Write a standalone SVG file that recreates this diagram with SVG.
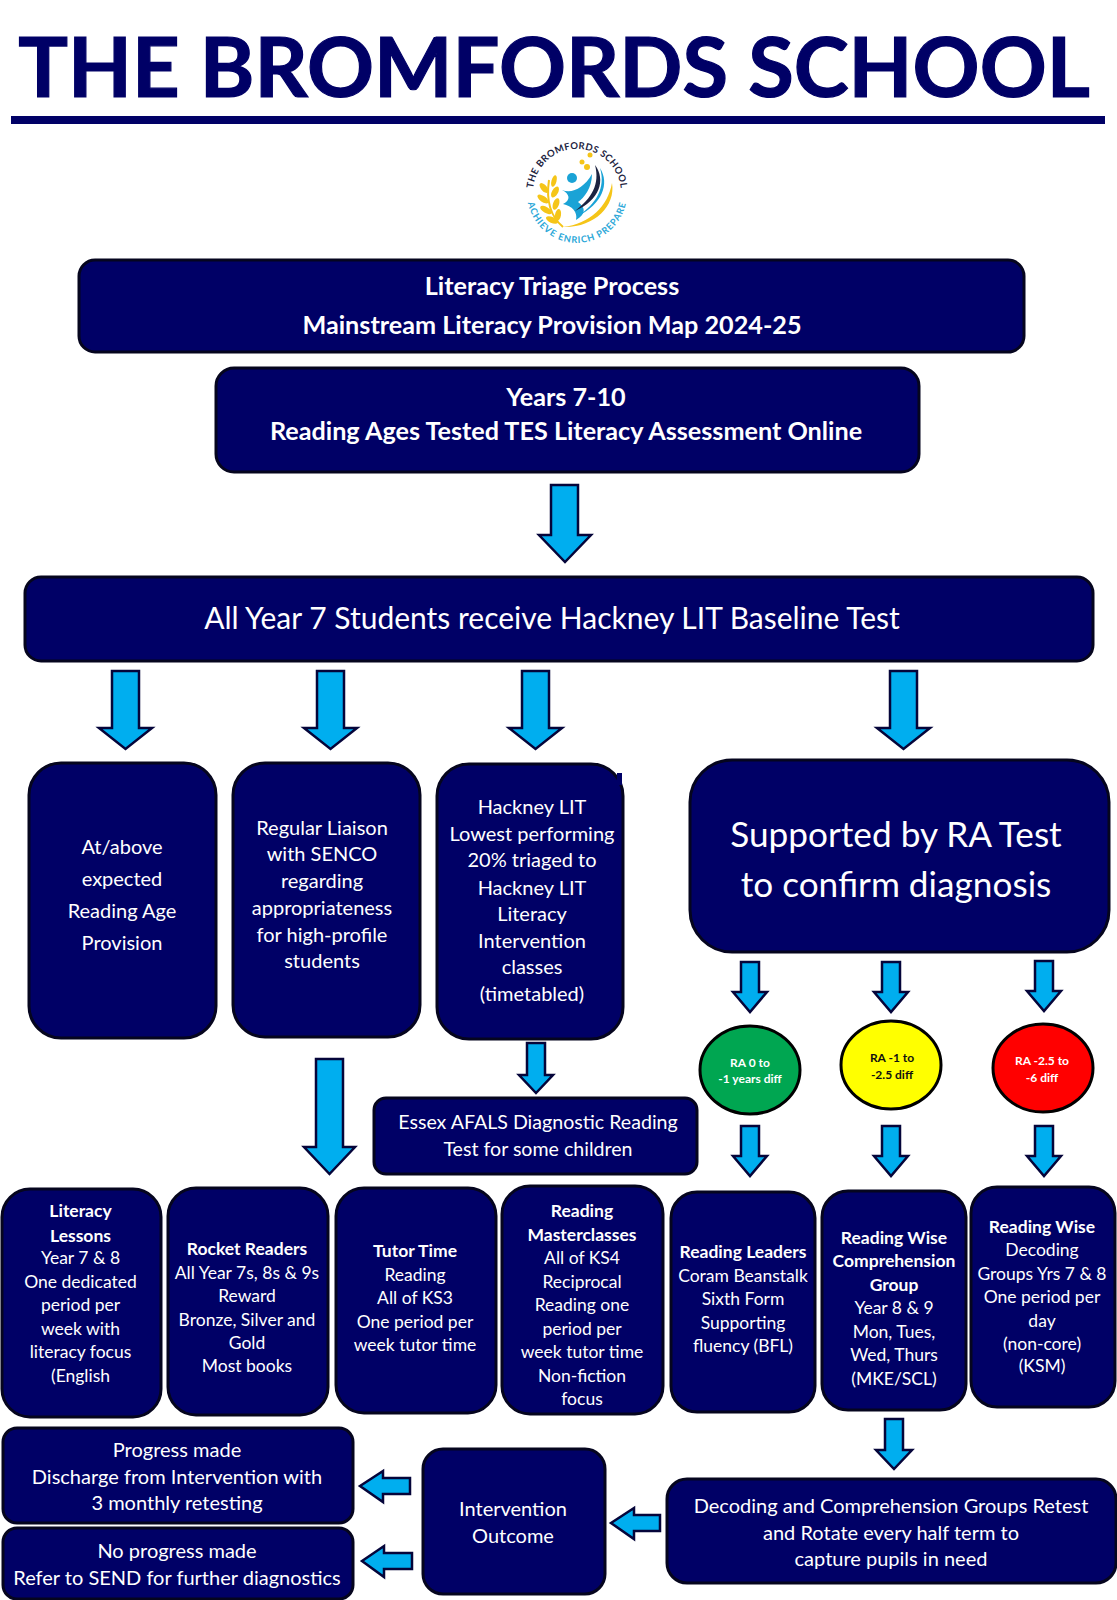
<svg xmlns="http://www.w3.org/2000/svg" width="1117" height="1600" viewBox="0 0 1117 1600">
<style>
text{font-family:"Lato","Carlito","Open Sans",sans-serif;fill:#fff;text-anchor:middle}
.b{fill:#000066;stroke:#05051e;stroke-width:3}
.a{fill:#00aeef;stroke:#05053a;stroke-width:2.500;stroke-linejoin:miter}
.s{font-size:17.500px}
.m{font-size:20px}
.h{font-weight:700}
.e{stroke:#000;stroke-width:3}
.r{font-size:12px;font-weight:700}
.g{fill:#f5c518}
</style>
<rect width="1117" height="1600" fill="#fff"/>
<g id="title">
<text x="554" y="97" font-size="83" font-weight="700" style="fill:#000066;stroke:#000066;stroke-width:1.200px">THE BROMFORDS SCHOOL</text>
<rect x="11" y="116" width="1094" height="8" fill="#000066"/>
</g>
<g id="logo">
<defs>
<path id="lt" d="M535.300 207A44 44 0 1 1 618.700 207"/>
<path id="lb" d="M528 183A50 50 0 1 0 626 183"/>
</defs>
<text font-size="9.500" font-weight="700"><textPath href="#lt" startOffset="50%" style="fill:#1c2340;letter-spacing:.3px">THE BROMFORDS SCHOOL</textPath></text>
<text font-size="9.200" font-weight="700"><textPath href="#lb" startOffset="50%" style="fill:#2aa7d8;letter-spacing:.9px">ACHIEVE ENRICH PREPARE</textPath></text>
<path d="M612 183C616 206 594 228 563 227C590 224 608 206 612 183Z" class="g"/>
<path d="M549 180C546 200 550 216 563 227" fill="none" stroke="#f5c518" stroke-width="2"/>
<g class="g">
<ellipse cx="554" cy="181" rx="2.500" ry="6" transform="rotate(15 554 181)"/>
<ellipse cx="544" cy="188" rx="3" ry="6" transform="rotate(-40 544 188)"/>
<ellipse cx="555" cy="192" rx="3" ry="6" transform="rotate(30 555 192)"/>
<ellipse cx="543" cy="199" rx="3" ry="6.500" transform="rotate(-55 543 199)"/>
<ellipse cx="556" cy="204" rx="3" ry="6" transform="rotate(20 556 204)"/>
<ellipse cx="546" cy="210" rx="3" ry="6.500" transform="rotate(-60 546 210)"/>
<ellipse cx="558" cy="215" rx="3" ry="6" transform="rotate(10 558 215)"/>
<ellipse cx="552" cy="220" rx="3" ry="6.500" transform="rotate(-65 552 220)"/>
<circle cx="590" cy="155" r="2.500"/><circle cx="582" cy="162" r="2.500"/><circle cx="587" cy="167" r="3"/>
</g>
<circle cx="572" cy="178" r="5" fill="#1aa3d6"/>
<path d="M562 190C572 194 584 188 592 174C592 188 584 198 578 202C586 208 586 214 576 220C578 212 572 206 563 204C571 200 570 194 562 190Z" fill="#1aa3d6"/>
<path d="M595 165C606 180 600 200 575 211C592 198 600 184 595 165Z" fill="#1c2340"/>
<path d="M600 168C610 184 602 204 578 216C596 204 606 188 600 168Z" fill="#1aa3d6"/>
</g>
<g id="connectors">
<polygon class="a" points="551,485 578,485 578,535 591,535 565,562 539,535 551,535"/>
<polygon class="a" points="112,671 139,671 139,728 152,728 125.500,749 99,728 112,728"/>
<polygon class="a" points="317,671 344,671 344,728 357,728 330.500,749 304,728 317,728"/>
<polygon class="a" points="522,671 549,671 549,728 562,728 535.500,749 509,728 522,728"/>
<polygon class="a" points="890,671 917,671 917,728 930,728 903.500,749 877,728 890,728"/>
<polygon class="a" points="316,1059 343,1059 343,1147 355,1147 329.500,1174 304,1147 316,1147"/>
<polygon class="a" points="527,1043 545,1043 545,1075 553,1075 536,1093 519,1075 527,1075"/>
<polygon class="a" points="741,962 759,962 759,992 767,992 750,1012 733,992 741,992"/>
<polygon class="a" points="882,962 900,962 900,992 908,992 891,1012 874,992 882,992"/>
<polygon class="a" points="1035,961 1053,961 1053,991 1061,991 1044,1011 1027,991 1035,991"/>
<polygon class="a" points="741,1126 759,1126 759,1156 767,1156 750,1176 733,1156 741,1156"/>
<polygon class="a" points="882,1126 900,1126 900,1156 908,1156 891,1176 874,1156 882,1156"/>
<polygon class="a" points="1035,1126 1053,1126 1053,1156 1061,1156 1044,1176 1027,1156 1035,1156"/>
<polygon class="a" points="885,1419 903,1419 903,1450 912,1450 894,1469 876,1450 885,1450"/>
<polygon class="a" points="660,1515 634,1515 634,1508 611,1523 634,1539 634,1531 660,1531"/>
<polygon class="a" points="410,1478 383,1478 383,1471 360,1486 383,1502 383,1494 410,1494"/>
<polygon class="a" points="412,1553 384,1553 384,1546 362,1561 384,1577 384,1569 412,1569"/>
</g>
<g id="triage"><rect class="b" x="79" y="260" width="945" height="92" rx="16"/>
<text class="h" x="552" y="295" font-size="25.200">Literacy Triage Process</text>
<text class="h" x="552" y="334" font-size="25.200">Mainstream Literacy Provision Map 2024-25</text></g>
<g id="years"><rect class="b" x="216" y="368" width="703" height="104" rx="18"/>
<text class="h" x="566" y="406" font-size="25.200">Years 7-10</text>
<text class="h" x="566" y="440" font-size="25.200">Reading Ages Tested TES Literacy Assessment Online</text></g>
<g id="baseline"><rect class="b" x="25" y="577" width="1068" height="84" rx="16"/>
<text x="552" y="629" font-size="30">All Year 7 Students receive Hackney LIT Baseline Test</text></g>
<g id="above"><rect class="b" x="29" y="763" width="187" height="275" rx="32"/>
<text class="m" x="122" y="854">At/above</text><text class="m" x="122" y="886">expected</text><text class="m" x="122" y="918">Reading Age</text><text class="m" x="122" y="950">Provision</text></g>
<g id="liaison"><rect class="b" x="233" y="763" width="187" height="274" rx="32"/>
<text class="m" x="322" y="835">Regular Liaison</text><text class="m" x="322" y="861">with SENCO</text><text class="m" x="322" y="888">regarding</text><text class="m" x="322" y="915">appropriateness</text><text class="m" x="322" y="942">for high-profile</text><text class="m" x="322" y="968">students</text></g>
<g id="hackney"><rect class="b" x="437" y="764" width="186" height="275" rx="32"/>
<rect x="617" y="773" width="5" height="12" fill="#000066"/>
<text class="m" x="532" y="814">Hackney LIT</text><text class="m" x="532" y="841">Lowest performing</text><text class="m" x="532" y="867">20% triaged to</text><text class="m" x="532" y="895">Hackney LIT</text><text class="m" x="532" y="921">Literacy</text><text class="m" x="532" y="948">Intervention</text><text class="m" x="532" y="974">classes</text><text class="m" x="532" y="1001">(timetabled)</text></g>
<g id="supported"><rect class="b" x="690" y="760" width="419" height="192" rx="42"/>
<text x="896" y="847" font-size="35.200">Supported by RA Test</text><text x="896" y="897" font-size="35.200">to confirm diagnosis</text></g>
<g id="ra-green"><ellipse class="e" cx="750" cy="1070" rx="50" ry="44" fill="#00a651"/>
<text class="r" x="750" y="1067">RA 0 to</text><text class="r" x="750" y="1083">-1 years diff</text></g>
<g id="ra-yellow"><ellipse class="e" cx="891" cy="1065" rx="50" ry="44" fill="#ffff00"/>
<text class="r" x="892" y="1062" style="fill:#111">RA -1 to</text><text class="r" x="892" y="1079" style="fill:#111">-2.5 diff</text></g>
<g id="ra-red"><ellipse class="e" cx="1043" cy="1068" rx="50" ry="44" fill="#ff0000"/>
<text class="r" x="1042" y="1065">RA -2.5 to</text><text class="r" x="1042" y="1082">-6 diff</text></g>
<g id="essex"><rect class="b" x="374" y="1098" width="323" height="76" rx="12"/>
<text x="538" y="1129" font-size="19.600">Essex AFALS Diagnostic Reading</text><text x="538" y="1156" font-size="19.600">Test for some children</text></g>
<g id="literacy-lessons"><rect class="b" x="2" y="1189" width="159" height="228" rx="28"/>
<text class="s h" x="80.500" y="1217">Literacy</text><text class="s h" x="80.500" y="1242">Lessons</text><text class="s" x="80.500" y="1264">Year 7 &amp; 8</text><text class="s" x="80.500" y="1288">One dedicated</text><text class="s" x="80.500" y="1311">period per</text><text class="s" x="80.500" y="1335">week with</text><text class="s" x="80.500" y="1358">literacy focus</text><text class="s" x="80.500" y="1382">(English</text></g>
<g id="rocket"><rect class="b" x="168" y="1188" width="160" height="227" rx="28"/>
<text class="s h" x="247" y="1255">Rocket Readers</text><text class="s" x="247" y="1279">All Year 7s, 8s &amp; 9s</text><text class="s" x="247" y="1302">Reward</text><text class="s" x="247" y="1326">Bronze, Silver and</text><text class="s" x="247" y="1349">Gold</text><text class="s" x="247" y="1372">Most books</text></g>
<g id="tutor"><rect class="b" x="336" y="1188" width="160" height="225" rx="28"/>
<text class="s h" x="415" y="1257">Tutor Time</text><text class="s" x="415" y="1281">Reading</text><text class="s" x="415" y="1304">All of KS3</text><text class="s" x="415" y="1328">One period per</text><text class="s" x="415" y="1351">week tutor time</text></g>
<g id="masterclasses"><rect class="b" x="502" y="1186" width="161" height="228" rx="28"/>
<text class="s h" x="582" y="1217">Reading</text><text class="s h" x="582" y="1241">Masterclasses</text><text class="s" x="582" y="1264">All of KS4</text><text class="s" x="582" y="1288">Reciprocal</text><text class="s" x="582" y="1311">Reading one</text><text class="s" x="582" y="1335">period per</text><text class="s" x="582" y="1358">week tutor time</text><text class="s" x="582" y="1382">Non-fiction</text><text class="s" x="582" y="1405">focus</text></g>
<g id="leaders"><rect class="b" x="671" y="1192" width="144" height="220" rx="26"/>
<text class="s h" x="743" y="1258">Reading Leaders</text><text class="s" x="743" y="1282">Coram Beanstalk</text><text class="s" x="743" y="1305">Sixth Form</text><text class="s" x="743" y="1329">Supporting</text><text class="s" x="743" y="1352">fluency (BFL)</text></g>
<g id="comprehension"><rect class="b" x="822" y="1191" width="144" height="219" rx="26"/>
<text class="s h" x="894" y="1244">Reading Wise</text><text class="s h" x="894" y="1267">Comprehension</text><text class="s h" x="894" y="1291">Group</text><text class="s" x="894" y="1314">Year 8 &amp; 9</text><text class="s" x="894" y="1338">Mon, Tues,</text><text class="s" x="894" y="1361">Wed, Thurs</text><text class="s" x="894" y="1385">(MKE/SCL)</text></g>
<g id="decoding-groups"><rect class="b" x="971" y="1187" width="144" height="220" rx="26"/>
<text class="s h" x="1042" y="1233">Reading Wise</text><text class="s" x="1042" y="1256">Decoding</text><text class="s" x="1042" y="1280">Groups Yrs 7 &amp; 8</text><text class="s" x="1042" y="1303">One period per</text><text class="s" x="1042" y="1327">day</text><text class="s" x="1042" y="1350">(non-core)</text><text class="s" x="1042" y="1372">(KSM)</text></g>
<g id="retest"><rect class="b" x="667" y="1479" width="449" height="104" rx="20"/>
<text class="m" x="891" y="1513">Decoding and Comprehension Groups Retest</text><text class="m" x="891" y="1540">and Rotate every half term to</text><text class="m" x="891" y="1566">capture pupils in need</text></g>
<g id="outcome"><rect class="b" x="423" y="1449" width="182" height="145" rx="20"/>
<text class="m" x="513" y="1516">Intervention</text><text class="m" x="513" y="1543">Outcome</text></g>
<g id="progress"><rect class="b" x="3" y="1428" width="350" height="95" rx="14"/>
<text class="m" x="177" y="1457">Progress made</text><text class="m" x="177" y="1484">Discharge from Intervention with</text><text class="m" x="177" y="1510">3 monthly retesting</text></g>
<g id="no-progress"><rect class="b" x="3" y="1528" width="350" height="71" rx="14"/>
<text class="m" x="177" y="1558">No progress made</text><text class="m" x="177" y="1585">Refer to SEND for further diagnostics</text></g>
</svg>
